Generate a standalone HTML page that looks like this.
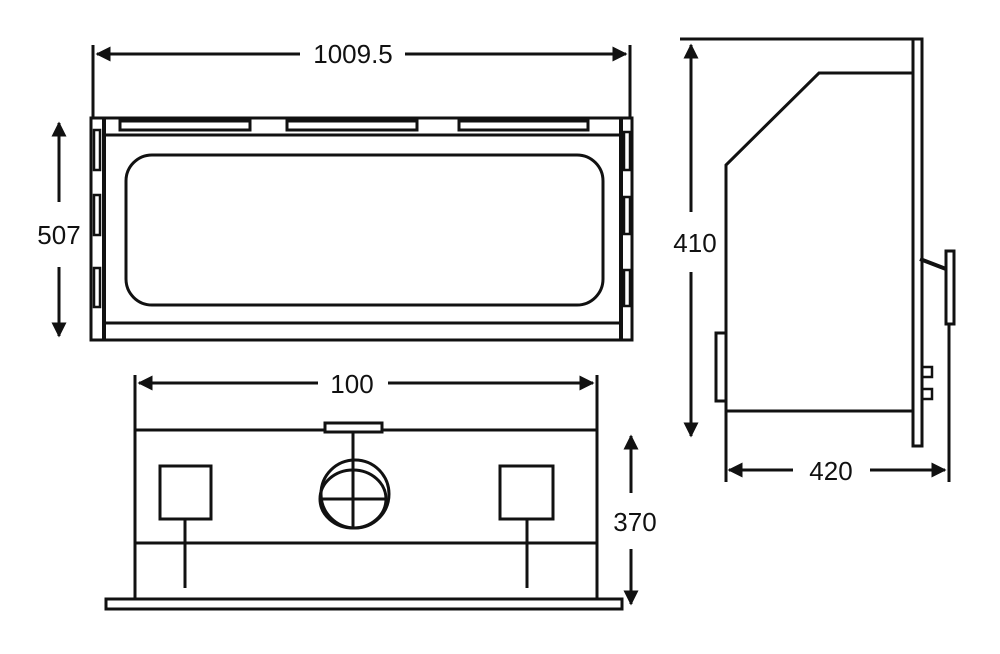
<!DOCTYPE html>
<html><head><meta charset="utf-8"><style>html,body{margin:0;padding:0;background:#fff}svg{display:block}text{font-family:"Liberation Sans",sans-serif;font-size:26px;fill:#111}</style></head>
<body>
<svg width="1000" height="654" viewBox="0 0 1000 654" xmlns="http://www.w3.org/2000/svg">
<defs>
<marker id="a" viewBox="0 0 10 10" refX="9" refY="5" markerWidth="5" markerHeight="5" orient="auto-start-reverse"><path d="M0,0 L10,5 L0,10 z" fill="#111"/></marker>
</defs>
<g stroke="#111" stroke-width="3" fill="none">
<line x1="93" y1="45" x2="93" y2="118"/>
<line x1="630" y1="45" x2="630" y2="118"/>
<line x1="97" y1="54" x2="300" y2="54" marker-start="url(#a)"/>
<line x1="405" y1="54" x2="626" y2="54" marker-end="url(#a)"/>
<rect x="91" y="118" width="541" height="222"/>
<line x1="104" y1="118" x2="104" y2="340" stroke-width="4"/>
<line x1="621" y1="118" x2="621" y2="340" stroke-width="4"/>
<line x1="104" y1="135" x2="621" y2="135"/>
<line x1="104" y1="323" x2="621" y2="323"/>
<rect x="120" y="121" width="130" height="9"/>
<rect x="287" y="121" width="130" height="9"/>
<rect x="459" y="121" width="129" height="9"/>
<rect x="126" y="155" width="477" height="150" rx="26"/>
<rect x="94" y="130" width="6" height="40" stroke-width="2.5"/>
<rect x="94" y="195" width="6" height="40" stroke-width="2.5"/>
<rect x="94" y="268" width="6" height="39" stroke-width="2.5"/>
<rect x="624" y="132" width="6" height="38" stroke-width="2.5"/>
<rect x="624" y="197" width="6" height="37" stroke-width="2.5"/>
<rect x="624" y="270" width="6" height="36" stroke-width="2.5"/>
<line x1="59" y1="123" x2="59" y2="202" marker-start="url(#a)"/>
<line x1="59" y1="267" x2="59" y2="336" marker-end="url(#a)"/>
<line x1="680" y1="39" x2="913" y2="39"/>
<rect x="913" y="39" width="9" height="407"/>
<polyline points="913,73 819,73 726,165 726,411 913,411"/>
<rect x="716" y="333" width="10" height="68"/>
<rect x="946" y="251" width="8" height="73"/>
<line x1="920" y1="259" x2="946" y2="269" stroke-width="4"/>
<line x1="949" y1="324" x2="949" y2="482"/>
<rect x="922" y="367" width="10" height="10" stroke-width="2.5"/>
<rect x="922" y="389" width="10" height="10" stroke-width="2.5"/>
<line x1="691" y1="45" x2="691" y2="212" marker-start="url(#a)"/>
<line x1="691" y1="272" x2="691" y2="436" marker-end="url(#a)"/>
<line x1="726" y1="411" x2="726" y2="482"/>
<line x1="729" y1="470" x2="793" y2="470" marker-start="url(#a)"/>
<line x1="870" y1="470" x2="945" y2="470" marker-end="url(#a)"/>
<line x1="135" y1="375" x2="135" y2="599"/>
<line x1="597" y1="375" x2="597" y2="599"/>
<line x1="139" y1="383" x2="318" y2="383" marker-start="url(#a)"/>
<line x1="388" y1="383" x2="593" y2="383" marker-end="url(#a)"/>
<line x1="135" y1="430" x2="597" y2="430"/>
<line x1="135" y1="543" x2="597" y2="543"/>
<rect x="106" y="599" width="516" height="10"/>
<rect x="160" y="466" width="51" height="53"/>
<rect x="500" y="466" width="53" height="53"/>
<line x1="185" y1="519" x2="185" y2="588"/>
<line x1="527" y1="519" x2="527" y2="588"/>
<rect x="325" y="423" width="57" height="9" fill="#fff"/>
<circle cx="355" cy="494" r="34"/>
<ellipse cx="353" cy="499" rx="33" ry="29"/>
<line x1="353" y1="432" x2="353" y2="527"/>
<line x1="321" y1="499" x2="387" y2="499"/>
<line x1="631" y1="436" x2="631" y2="493" marker-start="url(#a)"/>
<line x1="631" y1="549" x2="631" y2="604" marker-end="url(#a)"/>
</g>
<text x="353" y="63" text-anchor="middle">1009.5</text>
<text x="59" y="244" text-anchor="middle">507</text>
<text x="695" y="252" text-anchor="middle">410</text>
<text x="831" y="480" text-anchor="middle">420</text>
<text x="352" y="393" text-anchor="middle">100</text>
<text x="635" y="531" text-anchor="middle">370</text>
</svg>
</body></html>
